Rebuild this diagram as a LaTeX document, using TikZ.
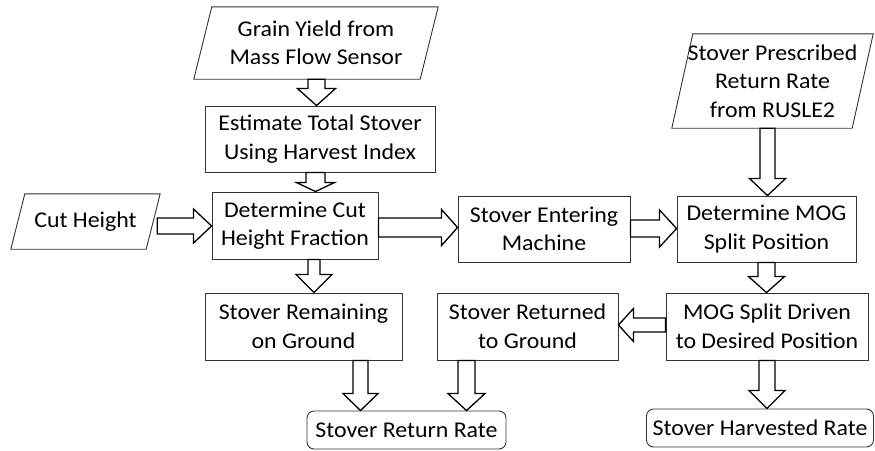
\documentclass[tikz,border=0pt]{standalone}
\usepackage{fontspec}
\setmainfont[FakeStretch=1.06]{Carlito}
\usetikzlibrary{calc}
\tikzset{
  base/.style={font=\fontsize{22.5}{28.5}\selectfont, align=center, inner sep=0pt, text=black},
  box/.style={base, draw=black!80, line width=0.9pt, rectangle},
  rbox/.style={box, rounded corners=7pt},
  io/.style={base, rectangle},
  para/.style={draw=black!80, line width=0.9pt},
  blk/.style={draw=black, line width=1.3pt, fill=white, line join=miter},
}
\newcommand{\paral}[2]{\draw[para] ($(#1.north west)+(#2,0)$) -- (#1.north east) -- ($(#1.south east)-(#2,0)$) -- (#1.south west) -- cycle;}
% vertical block arrow: #1 x, #2 from, #3 to, #4 shaft half, #5 head half, #6 head length
\newcommand{\vblk}[6]{\draw[blk] let \p1=(#2), \p2=(#3) in
  ({#1pt-#4pt},\y1) -- ({#1pt+#4pt},\y1) -- ({#1pt+#4pt},{\y2+#6pt}) -- ({#1pt+#5pt},{\y2+#6pt}) -- (#1pt,\y2)
  -- ({#1pt-#5pt},{\y2+#6pt}) -- ({#1pt-#4pt},{\y2+#6pt}) -- cycle;}
% horizontal block arrow: #1 y, #2 from, #3 to, #4 shaft half, #5 head half, #6 signed head length
\newcommand{\hblk}[6]{\draw[blk] let \p1=(#2), \p2=(#3) in
  (\x1,{-#1pt+#4pt}) -- ({\x2-(#6pt)},{-#1pt+#4pt}) -- ({\x2-(#6pt)},{-#1pt+#5pt}) -- (\x2,{-#1pt})
  -- ({\x2-(#6pt)},{-#1pt-#5pt}) -- ({\x2-(#6pt)},{-#1pt-#4pt}) -- (\x1,{-#1pt-#4pt}) -- cycle;}
\begin{document}
\begin{tikzpicture}[x=1pt,y=-1pt]
\useasboundingbox[fill=white] (0,0) rectangle (875,450);
% input parallelograms
\node[io, minimum width=244, minimum height=72] (grain) at (316,43) {Grain Yield from\\Mass Flow Sensor};
\paral{grain}{18}
\node[io, minimum width=149, minimum height=55] (cut) at (85.5,221.5) {Cut Height};
\paral{cut}{14}
\node[io, minimum width=201, minimum height=94] (pres) at (772.5,81) {Stover Prescribed\\Return Rate\\from RUSLE2};
\paral{pres}{21}
% process boxes
\node[box, minimum width=230, minimum height=66] (est) at (320,139) {Estimate Total Stover\\Using Harvest Index};
\node[box, minimum width=166, minimum height=67] (det) at (295,225.5) {Determine Cut\\Height Fraction};
\node[box, minimum width=172, minimum height=66] (ent) at (544,229) {Stover Entering\\Machine};
\node[box, minimum width=179, minimum height=66] (mog) at (766.5,229) {Determine MOG\\Split Position};
\node[box, minimum width=202, minimum height=67] (drv) at (767,326.5) {MOG Split Driven\\to Desired Position};
\node[box, minimum width=181, minimum height=67] (ret) at (527.5,326.5) {Stover Returned\\to Ground};
\node[box, minimum width=197, minimum height=67] (rem) at (303.5,326.5) {Stover Remaining\\on Ground};
% outputs
\node[rbox, minimum width=199, minimum height=38] (rr) at (406.5,430) {Stover Return Rate};
\node[rbox, minimum width=227, minimum height=38] (hr) at (760,428) {Stover Harvested Rate};
% block arrows
\vblk{316.5}{grain.south}{est.north}{8.5}{19}{17}
\vblk{315.5}{est.south}{det.north}{9.5}{19}{9}
\vblk{314}{det.south}{rem.north}{6}{18}{18}
\vblk{360.5}{rem.south}{rr.north}{7.5}{17.5}{17}
\vblk{466.5}{ret.south}{rr.north}{8.5}{18.5}{17}
\vblk{767.5}{pres.south}{mog.north}{7.5}{18}{17}
\vblk{766.5}{mog.south}{drv.north}{8.5}{18}{16}
\vblk{767}{drv.south}{hr.north}{8}{18}{18}
\hblk{226}{$(cut.east)+(-3,0)$}{det.west}{8}{17}{18}
\hblk{227.5}{det.east}{ent.west}{9.5}{18}{16}
\hblk{228.5}{ent.east}{mog.west}{8.5}{18.5}{17}
\hblk{325}{drv.west}{ret.east}{7}{16.5}{-15}
\end{tikzpicture}
\end{document}
